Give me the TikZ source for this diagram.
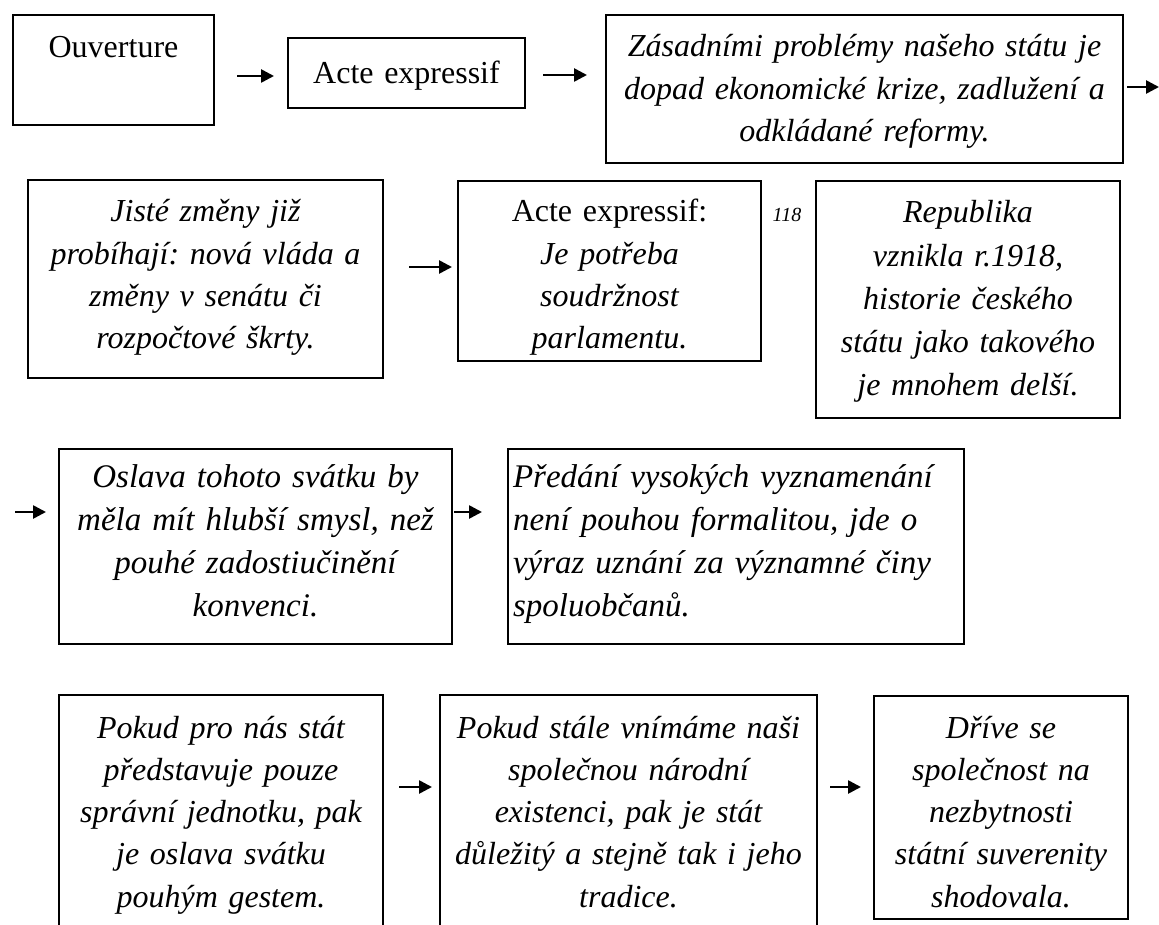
\documentclass[tikz,border=0pt]{standalone}
\usepackage{fontspec}
\setmainfont{Liberation Serif}
\usetikzlibrary{arrows.meta}
\newcommand\fsz{\frenchspacing\fontsize{32}{42.3}\selectfont}
\newcommand\fszb{\frenchspacing\fontsize{33}{43}\selectfont}
\begin{document}
\begin{tikzpicture}[x=1pt,y=-1pt,
  box/.style={draw, line width=1.5pt, inner sep=0pt, outer sep=0pt, anchor=north west},
  txt/.style={inner sep=0pt, outer sep=0pt, anchor=base, align=center, text width=600pt, font=\fsz\itshape},
  uptxt/.style={txt, font=\fsz\upshape},
  bigtxt/.style={txt, font=\fszb\itshape},
  arr/.style={line width=2.6pt, -{Triangle[length=13pt,width=13pt]}}]
\useasboundingbox (0,0) rectangle (1159,925);
\fill[white] (0,0) rectangle (1159,925);
\clip (0,0) rectangle (1159,925);

% boxes
\node[box, minimum width=201pt, minimum height=110pt] (b1) at (13,15) {};
\node[box, minimum width=237pt, minimum height=70pt]  (b2) at (288,38) {};
\node[box, minimum width=517pt, minimum height=148pt] (b3) at (606,15) {};
\node[box, minimum width=355pt, minimum height=198pt] (b4) at (28,180) {};
\node[box, minimum width=303pt, minimum height=180pt] (b5) at (458,181) {};
\node[box, minimum width=304pt, minimum height=237pt] (b6) at (816,181) {};
\node[box, minimum width=393pt, minimum height=195pt] (b7) at (59,449) {};
\node[box, minimum width=456pt, minimum height=195pt] (b8) at (508,449) {};
\node[box, minimum width=324pt, minimum height=260pt] (b9) at (59,695) {};
\node[box, minimum width=377pt, minimum height=260pt] (b10) at (440,695) {};
\node[box, minimum width=254pt, minimum height=223pt] (b11) at (874,696) {};

% texts
\node[uptxt] (t1) at (113.5,58) {Ouverture};
\node[uptxt] (t2) at (406.5,84) {Acte expressif};
\node[txt] (t3) at (864.5,57) {Zásadními problémy našeho státu je\\dopad ekonomické krize, zadlužení a\\odkládané reformy.};
\node[txt] (t4) at (205.5,222) {Jisté změny již\\probíhají: nová vláda a\\změny v senátu či\\rozpočtové škrty.};
\node[txt] (t5) at (609.5,222) {{\upshape Acte expressif:}\\Je potřeba\\soudržnost\\parlamentu.};
\node[txt, font=\fontsize{20}{24}\selectfont\itshape] (n118) at (787,222) {118};
\node[txt, font=\frenchspacing\fontsize{32}{43.2}\selectfont\itshape] (t6) at (968,223) {Republika\\vznikla r.1918,\\historie českého\\státu jako takového\\je mnohem delší.};
\node[bigtxt] (t7) at (255.5,487) {Oslava tohoto svátku by\\měla mít hlubší smysl, než\\pouhé zadostiučinění\\konvenci.};
\node[bigtxt, anchor=base west, align=left] (t8) at (513,487) {Předání vysokých vyznamenání\\není pouhou formalitou, jde o\\výraz uznání za významné činy\\spoluobčanů.};
\node[txt] (t9) at (221,738) {Pokud pro nás stát\\představuje pouze\\správní jednotku, pak\\je oslava svátku\\pouhým gestem.};
\node[txt] (t10) at (628.5,738) {Pokud stále vnímáme naši\\společnou národní\\existenci, pak je stát\\důležitý a stejně tak i jeho\\tradice.};
\node[txt] (t11) at (1001,738) {Dříve se\\společnost na\\nezbytnosti\\státní suverenity\\shodovala.};

% arrow end points
\coordinate (a1s) at (237,76);  \coordinate (a1e) at (274,76);
\coordinate (a2s) at (543,75);  \coordinate (a2e) at (587,75);
\coordinate (a3s) at (1127,87); \coordinate (a3e) at (1159,87);
\coordinate (a4s) at (409,267); \coordinate (a4e) at (452,267);
\coordinate (a5s) at (15,512);  \coordinate (a5e) at (46,512);
\coordinate (a6s) at (454,512); \coordinate (a6e) at (482,512);
\coordinate (a7s) at (399,787); \coordinate (a7e) at (432,787);
\coordinate (a8s) at (830,787); \coordinate (a8e) at (861,787);

\draw[arr] (a1s) -- (a1e);
\draw[arr] (a2s) -- (a2e);
\draw[arr] (a3s) -- (a3e);
\draw[arr] (a4s) -- (a4e);
\draw[arr] (a5s) -- (a5e);
\draw[arr] (a6s) -- (a6e);
\draw[arr] (a7s) -- (a7e);
\draw[arr] (a8s) -- (a8e);
\end{tikzpicture}
\end{document}
